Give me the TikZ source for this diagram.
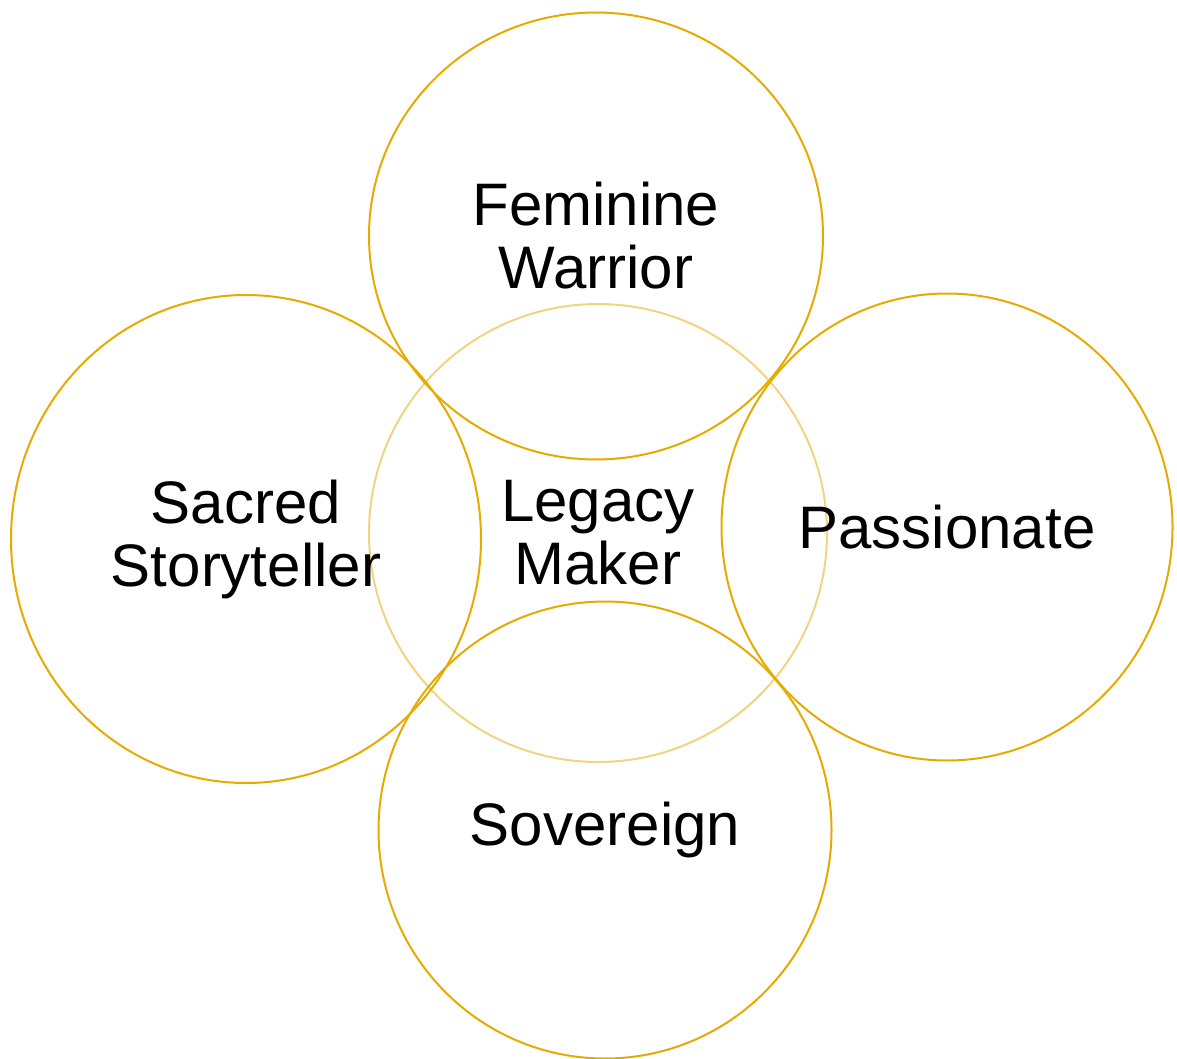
\documentclass[tikz,border=0pt]{standalone}
\usepackage{fontspec}
\setmainfont{Liberation Sans}
\usetikzlibrary{shapes.geometric}
\definecolor{goldline}{RGB}{230,170,0}
\tikzset{
  ring/.style={ellipse, draw=goldline, line width=2pt, align=center, inner sep=0pt,
    font=\fontsize{60pt}{63pt}\selectfont},
  softring/.style={ring, draw=goldline!50}
}
\begin{document}
\begin{tikzpicture}[x=1pt,y=-1pt]
\useasboundingbox (0,0) rectangle (1177,1059);
\node[softring, minimum width=458pt, minimum height=458pt] (legacy) at (598,533) {Legacy\\Maker};
\node[ring, minimum width=454pt, minimum height=447pt] (warrior) at (596,236) {Feminine\\Warrior};
\node[ring, minimum width=470pt, minimum height=488pt] (story) at (246,539) {Sacred\\Storyteller};
\node[ring, minimum width=451pt, minimum height=467pt] (passion) at (947,527) {Passionate};
\node[ring, minimum width=453pt, minimum height=457pt] (sovereign) at (605,830) {Sovereign};
\end{tikzpicture}
\end{document}
